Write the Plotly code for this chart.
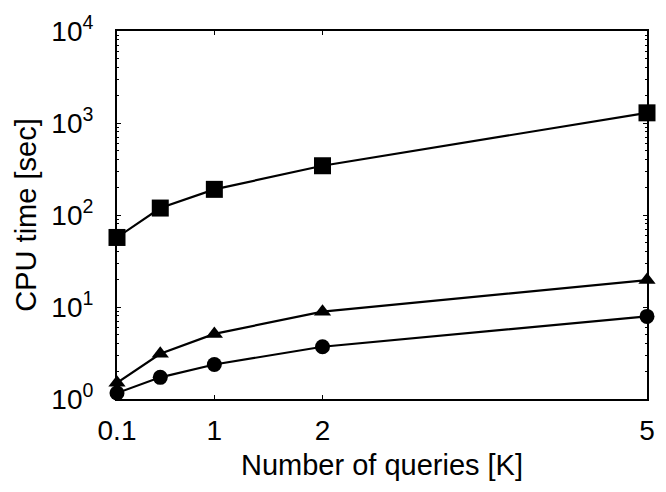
import plotly.graph_objects as go

queries_k = [0.1, 0.5, 1, 2, 5]
square_series = [57, 119, 190, 343, 1290]
triangle_series = [1.5, 3.1, 5.1, 8.9, 19.6]
circle_series = [1.16, 1.72, 2.37, 3.7, 7.9]

x_tickvals = [0.1, 1, 2, 5]
x_ticktext = ["0.1", "1", "2", "5"]
y_tickvals = [1, 10, 100, 1000, 10000]
y_ticktext = ["10<sup>0</sup>", "10<sup>1</sup>", "10<sup>2</sup>", "10<sup>3</sup>", "10<sup>4</sup>"]
y_minor_vals = [m * 10 ** k for k in range(4) for m in range(2, 10)]

font_family = "Liberation Sans, Arial, sans-serif"

fig = go.Figure()
for ys, sym, size in [(square_series, "square", 17),
                      (triangle_series, "triangle-up", 15),
                      (circle_series, "circle", 15)]:
    fig.add_trace(go.Scatter(
        x=queries_k, y=ys, mode="lines+markers",
        line=dict(color="black", width=2.2),
        marker=dict(symbol=sym, size=size, color="black"),
        cliponaxis=False, showlegend=False))

fig.update_layout(
    width=666, height=492,
    margin=dict(l=117, r=11, t=25, b=93),
    paper_bgcolor="white", plot_bgcolor="white",
    font=dict(family=font_family, size=29, color="black"),
)
fig.update_xaxes(
    range=[0.1, 5], tickvals=x_tickvals, ticktext=x_ticktext,
    ticks="inside", ticklen=4, tickwidth=1, tickcolor="black",
    showline=True, linecolor="black", linewidth=2, mirror="ticks",
    showgrid=False, zeroline=False,
    tickfont=dict(size=28), ticklabelstandoff=5,
    title=dict(text="Number of queries [K]", font=dict(size=29), standoff=10),
)
fig.update_yaxes(
    type="log", range=[0, 4], tickvals=y_tickvals, ticktext=y_ticktext,
    ticks="inside", ticklen=4, tickwidth=1, tickcolor="black",
    showline=True, linecolor="black", linewidth=2, mirror="ticks",
    showgrid=False, zeroline=False,
    minor=dict(tickvals=y_minor_vals, ticks="inside", ticklen=2,
               tickwidth=1, tickcolor="black", showgrid=False),
    tickfont=dict(size=28), ticklabelstandoff=16,
    title=dict(text="CPU time [sec]", font=dict(size=29), standoff=6),
)

fig.write_html("out.html")
